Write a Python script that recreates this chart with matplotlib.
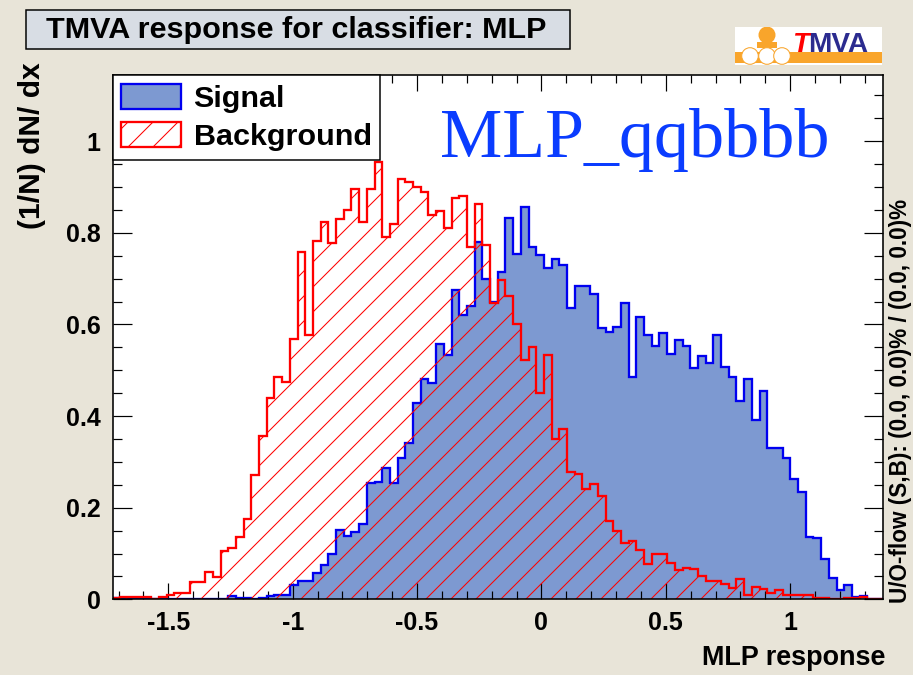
import numpy as np
import matplotlib.pyplot as plt
from matplotlib.patches import Patch, Rectangle, Circle
from matplotlib.ticker import MultipleLocator, FuncFormatter

# histogram range and binning (TMVA MLP response, 100 bins)
x_min, x_max = -1.7236, 1.372
n_bins = 100

signal = [
    0.003, 0, 0, 0, 0, 0, 0, 0, 0, 0,
    0, 0, 0, 0, 0, 0.007, 0.002, 0.003, 0.0, 0.003,
    0.007, 0.009, 0.009, 0.032, 0.040, 0.040, 0.057, 0.075, 0.100, 0.151,
    0.138, 0.148, 0.164, 0.253, 0.257, 0.287, 0.253, 0.308, 0.341, 0.429,
    0.480, 0.473, 0.557, 0.534, 0.676, 0.621, 0.640, 0.781, 0.699, 0.650,
    0.715, 0.832, 0.755, 0.857, 0.770, 0.752, 0.723, 0.743, 0.730, 0.635,
    0.685, 0.685, 0.667, 0.592, 0.583, 0.595, 0.648, 0.486, 0.616, 0.578,
    0.553, 0.582, 0.535, 0.566, 0.553, 0.506, 0.531, 0.515, 0.578, 0.508,
    0.486, 0.434, 0.480, 0.391, 0.455, 0.330, 0.330, 0.308, 0.262, 0.235,
    0.137, 0.133, 0.087, 0.046, 0.020, 0.031, 0.004, 0.008, 0.0, 0.0,
]

background = [
    0.002, 0.004, 0.004, 0.004, 0.004, 0.001, 0.006, 0.010, 0.014, 0.014,
    0.037, 0.037, 0.059, 0.049, 0.106, 0.111, 0.135, 0.175, 0.271, 0.357,
    0.439, 0.485, 0.474, 0.568, 0.758, 0.577, 0.783, 0.824, 0.779, 0.830,
    0.851, 0.895, 0.824, 0.895, 0.954, 0.790, 0.819, 0.917, 0.912, 0.900,
    0.889, 0.839, 0.848, 0.810, 0.876, 0.881, 0.770, 0.863, 0.774, 0.646,
    0.697, 0.662, 0.601, 0.522, 0.550, 0.450, 0.533, 0.350, 0.371, 0.278,
    0.274, 0.241, 0.252, 0.226, 0.171, 0.149, 0.122, 0.127, 0.108, 0.076,
    0.098, 0.100, 0.080, 0.063, 0.068, 0.066, 0.050, 0.041, 0.041, 0.033,
    0.025, 0.044, 0.010, 0.026, 0.023, 0.013, 0.020, 0.010, 0.010, 0.010,
    0.010, 0.002, 0.002, 0.001, 0.0, 0.002, 0.002, 0.004, 0.0, 0.0,
]

edges = np.linspace(x_min, x_max, n_bins + 1)

DPI = 75
W, H = 913, 675
PT = 72.0 / DPI   # points per pixel

sig_fill = '#7d99d1'
font = 'Liberation Sans'
plt.rcParams['font.family'] = [font, 'DejaVu Sans']
plt.rcParams['font.weight'] = 'bold'
plt.rcParams['hatch.linewidth'] = 1.0

fig = plt.figure(figsize=(W / DPI, H / DPI), dpi=DPI)
fig.patch.set_facecolor('#e8e4d8')

ax = fig.add_axes([112.7 / W, 1 - 599.3 / H, (882.7 - 112.7) / W, (599.3 - 75) / H])

# signal: filled, blue outline
ax.stairs(signal, edges, fill=True, color=sig_fill, lw=0, zorder=1)
ax.stairs(signal, edges, color='#0000f0', lw=2.3 * PT, baseline=0, zorder=2)
# background: red hatched, red outline
ax.stairs(background, edges, fill=True, facecolor='none', edgecolor='red',
          hatch='/', lw=0, zorder=3)
ax.stairs(background, edges, color='red', lw=2.3 * PT, baseline=0, zorder=4)

ax.set_xlim(x_min, x_max)
ax.set_ylim(0, (599.3 - 75) / 458.0)

ax.xaxis.set_major_locator(MultipleLocator(0.5))
ax.xaxis.set_minor_locator(MultipleLocator(0.1))
ax.yaxis.set_major_locator(MultipleLocator(0.2))
ax.yaxis.set_minor_locator(MultipleLocator(0.05))
fmt = FuncFormatter(lambda v, p: '%g' % round(v, 3))
ax.xaxis.set_major_formatter(fmt)
ax.yaxis.set_major_formatter(fmt)

ax.tick_params(which='both', direction='in', top=True, right=True, width=1.2 * PT,
               labelsize=25 * PT)
ax.tick_params(axis='x', which='major', length=16 * PT, pad=12 * PT)
ax.tick_params(axis='x', which='minor', length=8 * PT)
ax.tick_params(axis='y', which='major', length=19 * PT, pad=12 * PT)
ax.tick_params(axis='y', which='minor', length=9 * PT)
for lab in ax.get_xticklabels() + ax.get_yticklabels():
    lab.set_fontweight('bold')
for s in ax.spines.values():
    s.set_linewidth(1.6 * PT)
    s.set_zorder(5)

# legend
handles = [
    Patch(facecolor=sig_fill, edgecolor='#0000f0', lw=2.3 * PT, label='Signal'),
    Patch(facecolor='white', edgecolor='red', hatch='/', lw=2.3 * PT, label='Background'),
]
leg = ax.legend(handles=handles, loc='upper left', bbox_to_anchor=(0, 1),
                borderaxespad=0, fancybox=False, edgecolor='black', framealpha=1,
                prop=dict(family=font, weight='bold', size=30.5 * PT),
                handlelength=1.95, handleheight=0.93, labelspacing=0.28,
                borderpad=0.28, handletextpad=0.42)
leg.get_frame().set_linewidth(1.5 * PT)
leg.set_zorder(6)

# big blue label
fig.text(440 / W, 1 - 156.7 / H, 'MLP_qqbbbb', color='#0a3cff',
         family='Liberation Serif', fontweight='normal', size=70 * PT,
         ha='left', va='baseline')

# axis titles
fig.text(885 / W, 1 - 658 / H, 'MLP response', ha='right', va='center',
         size=27 * PT, fontweight='bold')
fig.text(32 / W, 1 - 62 / H, '(1/N) dN/ dx', ha='center', va='top',
         rotation=90, size=30 * PT, fontweight='bold')
fig.text(901 / W, 1 - 603 / H, 'U/O-flow (S,B): (0.0, 0.0)% / (0.0, 0.0)%',
         ha='center', va='bottom', rotation=90, size=22.5 * PT, fontweight='bold')

# title box
fig.patches.append(Rectangle((26 / W, 1 - 49 / H), (570 - 26) / W, 39 / H,
                             transform=fig.transFigure, facecolor='#d8dde4',
                             edgecolor='black', lw=1.5 * PT))
fig.text(296 / W, 1 - 30 / H, 'TMVA response for classifier: MLP',
         ha='center', va='center', size=30.5 * PT, fontweight='bold')

# TMVA logo
lg = fig.add_axes([735 / W, 1 - 65 / H, 147 / W, 38 / H])
lg.set_xlim(0, 147)
lg.set_ylim(38, 0)
lg.axis('off')
orange = '#f9a52b'
lg.add_patch(Rectangle((0, 0), 147, 38, facecolor='white', lw=0))
lg.add_patch(Rectangle((0, 25), 147, 11, facecolor=orange, lw=0))
lg.add_patch(Circle((32, 8), 8.5, facecolor=orange, lw=0))
lg.add_patch(Rectangle((22, 15), 20, 6, facecolor=orange, lw=0))
for cx in (15, 32, 47):
    lg.add_patch(Circle((cx, 29), 8.3, facecolor='white', edgecolor=orange, lw=1))
lg.text(57, 25, 'T', color='red', style='italic', size=28 * PT,
        fontweight='bold', va='baseline', ha='left')
lg.text(73, 25, 'MVA', color='#2b2b8f', size=28 * PT,
        fontweight='bold', va='baseline', ha='left')

fig.savefig('out.png', dpi=DPI, facecolor=fig.get_facecolor())
